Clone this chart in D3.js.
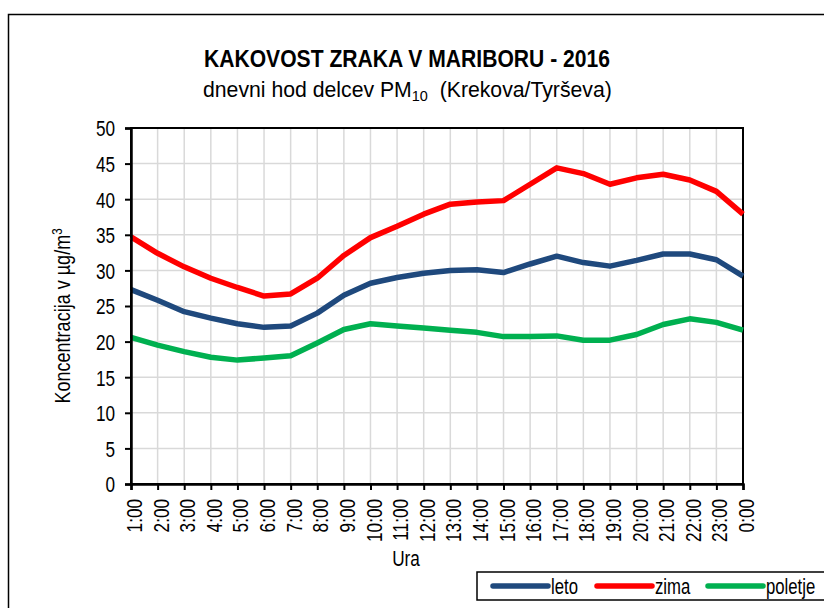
<!DOCTYPE html>
<html>
<head>
<meta charset="utf-8">
<script src="https://cdn.jsdelivr.net/npm/d3@7"></script>
<style>
  html, body { margin: 0; padding: 0; background: #fff; }
  svg { display: block; }
  text { font-family: "Liberation Sans", Arial, sans-serif; fill: #000; }
</style>
</head>
<body>
<svg id="chart" width="824" height="608"></svg>
<script>
const hours = ["1:00","2:00","3:00","4:00","5:00","6:00","7:00","8:00","9:00","10:00","11:00","12:00",
               "13:00","14:00","15:00","16:00","17:00","18:00","19:00","20:00","21:00","22:00","23:00","0:00"];
const leto    = [27.3,25.8,24.2,23.3,22.5,22.0,22.2,24.0,26.5,28.2,29.0,29.6,30.0,30.1,29.7,30.9,32.0,31.1,30.6,31.4,32.3,32.3,31.5,29.2];
const zima    = [34.7,32.4,30.5,28.9,27.6,26.4,26.7,28.9,32.1,34.6,36.2,37.9,39.3,39.6,39.8,42.1,44.4,43.6,42.1,43.0,43.5,42.7,41.1,37.9];
const poletje = [20.6,19.5,18.6,17.8,17.4,17.7,18.0,19.8,21.7,22.5,22.2,21.9,21.6,21.3,20.7,20.7,20.8,20.2,20.2,21.0,22.4,23.2,22.7,21.6];
const yTicks  = [0,5,10,15,20,25,30,35,40,45,50];
const seriesNames  = ["leto","zima","poletje"];
const seriesColors = ["#1F497D","#FF0000","#00B050"];

const series = [leto, zima, poletje].map((v, i) => ({name: seriesNames[i], color: seriesColors[i], values: v}));

// emulate a narrow font by compressing glyphs horizontally
function narrow(sel, k) {
  sel.each(function () {
    const len = this.getComputedTextLength();
    d3.select(this).attr("textLength", len * k).attr("lengthAdjust", "spacingAndGlyphs");
  });
}

const svg = d3.select("#chart");
const L = 131, R = 743, T = 128, B = 484;
const NK = 0.78;

// outer chart border (extends beyond the visible area)
svg.append("rect").attr("x", 8.5).attr("y", 14.5).attr("width", 840).attr("height", 700)
  .attr("fill", "none").attr("stroke", "#000").attr("stroke-width", 1.5);

// titles
svg.append("text").attr("x", 204).attr("y", 66.5)
  .style("font-size", "23px").style("font-weight", "bold")
  .attr("textLength", 406).attr("lengthAdjust", "spacingAndGlyphs")
  .text("KAKOVOST ZRAKA V MARIBORU - 2016");
const sub = svg.append("g");
const subT = sub.append("text").attr("x", 0).attr("y", 0).style("font-size", "22px");
subT.append("tspan").text("dnevni hod delcev PM");
subT.append("tspan").attr("dy", 4).style("font-size", "15px").text("10");
subT.append("tspan").attr("dy", -4).text("\u00a0 (Krekova/Tyrševa)");
const subW = subT.node().getBBox().width;
sub.attr("transform", `translate(203,96.5) scale(${409 / subW},1)`);

const x = d3.scalePoint().domain(hours).range([L, R]);
const y = d3.scaleLinear().domain([0, 50]).range([B, T]);

// grid
const g = svg.append("g");
g.selectAll(".vg").data(hours.slice(1, -1)).join("line")
  .attr("x1", d => x(d)).attr("x2", d => x(d)).attr("y1", T).attr("y2", B)
  .attr("stroke", "#D9D9D9").attr("stroke-width", 1.5);
g.selectAll(".hg").data(yTicks.slice(1, -1)).join("line")
  .attr("x1", L).attr("x2", R).attr("y1", d => y(d)).attr("y2", d => y(d))
  .attr("stroke", "#D9D9D9").attr("stroke-width", 1.5);

// plot frame
svg.append("rect").attr("x", L).attr("y", T).attr("width", R - L).attr("height", B - T)
  .attr("fill", "none").attr("stroke", "#000").attr("stroke-width", 2);

// series lines
const line = d3.line().x((d, i) => x(hours[i])).y(d => y(d));
svg.selectAll(".series").data(series).join("path")
  .attr("d", d => line(d.values))
  .attr("fill", "none").attr("stroke", d => d.color)
  .attr("stroke-width", 5.5).attr("stroke-linejoin", "round");

// y axis
const yAxis = svg.append("g").attr("transform", `translate(${L},0)`)
  .call(d3.axisLeft(y).tickValues(yTicks).tickSize(6).tickPadding(10));
yAxis.select(".domain").attr("stroke-width", 2.5);
yAxis.selectAll(".tick line").attr("stroke-width", 2);
yAxis.selectAll(".tick text").style("font-size", "22px")
  .style("font-family", '"Liberation Sans", Arial, sans-serif').attr("dy", "0.36em");
narrow(yAxis.selectAll(".tick text"), NK);

// x axis
const xAxis = svg.append("g").attr("transform", `translate(0,${B})`)
  .call(d3.axisBottom(x).tickSize(6).tickPadding(0));
xAxis.select(".domain").attr("stroke-width", 2.5);
xAxis.selectAll(".tick line").attr("stroke-width", 2);
xAxis.selectAll(".tick text")
  .style("font-size", "22px")
  .style("font-family", '"Liberation Sans", Arial, sans-serif')
  .attr("text-anchor", "end")
  .attr("transform", "rotate(-90)")
  .attr("x", -15).attr("y", 0).attr("dy", "0.48em");
narrow(xAxis.selectAll(".tick text"), NK);

// axis titles
const ura = svg.append("text").attr("x", 406).attr("y", 566).attr("text-anchor", "middle")
  .style("font-size", "22px").text("Ura");
narrow(ura, NK);
const yl = svg.append("g").attr("transform", "translate(70,316) rotate(-90) scale(0.82,1)");
const ylT = yl.append("text").attr("text-anchor", "middle").style("font-size", "22px");
ylT.append("tspan").text("Koncentracija v  µg/m");
ylT.append("tspan").attr("dy", -8).style("font-size", "14px").text("3");

// legend
svg.append("rect").attr("x", 477).attr("y", 572).attr("width", 400).attr("height", 28)
  .attr("fill", "#fff").attr("stroke", "#000").attr("stroke-width", 1.5);
const legX = [493, 597, 708];
const leg = svg.selectAll(".leg").data(series).join("g")
  .attr("transform", (d, i) => `translate(${legX[i]},586)`);
leg.append("line").attr("x1", 0).attr("x2", 55).attr("y1", 0).attr("y2", 0)
  .attr("stroke", d => d.color).attr("stroke-width", 5.5).attr("stroke-linecap", "round");
const legT = leg.append("text").attr("x", 58).attr("y", 0).attr("dy", "0.36em")
  .style("font-size", "22px").text(d => d.name);
narrow(legT, 0.76);
</script>
</body>
</html>
